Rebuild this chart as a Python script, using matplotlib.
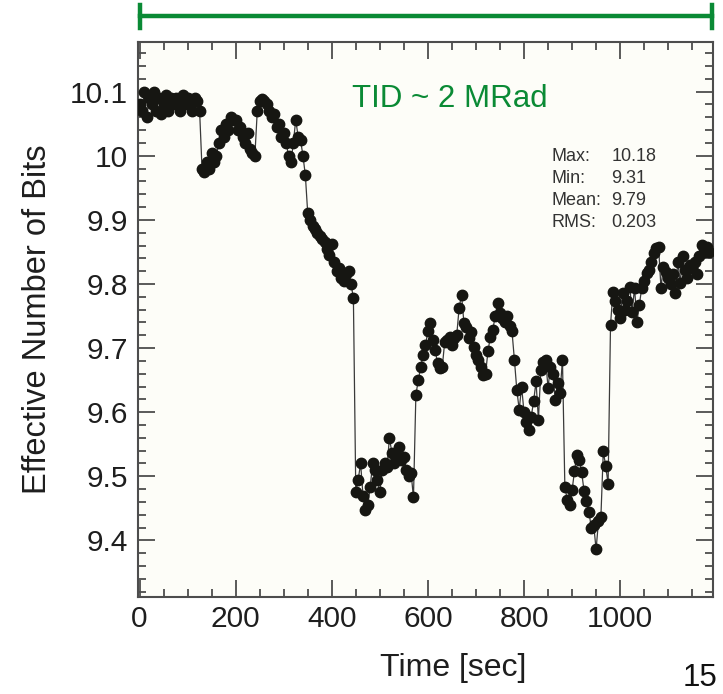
import numpy as np
import matplotlib.pyplot as plt
from matplotlib.lines import Line2D
from matplotlib.ticker import MultipleLocator

plt.rcParams["font.family"] = ["Liberation Sans", "DejaVu Sans"]

# sample times [sec], one reading every 5 s
t_start, t_step = 0, 5

# effective number of bits, 5 s apart
enob = [
    # 0 - 95
    10.08, 10.07, 10.10, 10.06, 10.09, 10.08, 10.10, 10.07, 10.09, 10.065,
    10.08, 10.095, 10.07, 10.09, 10.08, 10.09, 10.085, 10.07, 10.095, 10.08,
    # 100 - 195
    10.09, 10.08, 10.07, 10.09, 10.085, 10.07, 9.98, 9.975, 9.99, 9.98,
    10.005, 9.99, 10.0, 10.02, 10.04, 10.03, 10.05, 10.04, 10.06, 10.055,
    # 200 - 295
    10.055, 10.04, 10.045, 10.03, 10.02, 10.035, 10.01, 10.005, 10.0, 10.07,
    10.085, 10.088, 10.085, 10.08, 10.07, 10.06, 10.065, 10.045, 10.05, 10.03,
    # 300 - 395
    10.035, 10.02, 10.0, 9.99, 10.02, 10.056, 10.03, 10.025, 10.0, 9.97,
    9.91, 9.90, 9.89, 9.885, 9.88, 9.875, 9.87, 9.865, 9.855, 9.845,
    # 400 - 495
    9.862, 9.835, 9.82, 9.825, 9.81, 9.805, 9.815, 9.82, 9.80, 9.778,
    9.475, 9.495, 9.52, 9.47, 9.447, 9.455, 9.484, 9.52, 9.51, 9.495,
    # 500 - 595
    9.475, 9.51, 9.52, 9.515, 9.56, 9.537, 9.52, 9.53, 9.545, 9.525,
    9.53, 9.51, 9.50, 9.505, 9.467, 9.627, 9.65, 9.67, 9.69, 9.705,
    # 600 - 695
    9.726, 9.739, 9.713, 9.697, 9.677, 9.669, 9.671, 9.71, 9.713, 9.718,
    9.705, 9.715, 9.72, 9.763, 9.783, 9.739, 9.733, 9.716, 9.725, 9.702,
    # 700 - 795
    9.69, 9.682, 9.67, 9.658, 9.66, 9.695, 9.718, 9.728, 9.75, 9.77,
    9.755, 9.747, 9.74, 9.75, 9.735, 9.726, 9.682, 9.635, 9.604, 9.64,
    # 800 - 895
    9.60, 9.585, 9.573, 9.593, 9.617, 9.648, 9.588, 9.666, 9.679, 9.682,
    9.638, 9.671, 9.66, 9.619, 9.646, 9.63, 9.682, 9.484, 9.463, 9.455,
    # 900 - 995
    9.478, 9.508, 9.534, 9.526, 9.506, 9.477, 9.461, 9.445, 9.42, 9.424,
    9.386, 9.43, 9.437, 9.539, 9.516, 9.488, 9.736, 9.788, 9.773, 9.76,
    # 1000 - 1095
    9.747, 9.786, 9.76, 9.773, 9.796, 9.757, 9.794, 9.741, 9.767, 9.794,
    9.804, 9.817, 9.822, 9.835, 9.848, 9.856, 9.858, 9.794, 9.827, 9.819,
    # 1100 - 1185
    9.81, 9.80, 9.815, 9.786, 9.835, 9.802, 9.843, 9.822, 9.81, 9.83,
    9.825, 9.835, 9.815, 9.843, 9.861, 9.85, 9.858, 9.85,
]

y_ticks = [9.4, 9.5, 9.6, 9.7, 9.8, 9.9, 10.0, 10.1]
y_tick_labels = ["9.4", "9.5", "9.6", "9.7", "9.8", "9.9", "10", "10.1"]
x_ticks = [0, 200, 400, 600, 800, 1000]

stat_names = ["Max:", "Min:", "Mean:", "RMS:"]
stat_values = ["10.18", "9.31", "9.79", "0.203"]

green = "#0a8a35"
axis_grey = "#4d4d4d"


def main() -> None:
    times = t_start + t_step * np.arange(len(enob))

    fig = plt.figure(figsize=(7.23, 6.94), dpi=100)
    ax = fig.add_axes([0.191, 0.140, 0.795, 0.800])
    ax.set_facecolor("#fdfdf8")

    ax.plot(times, enob, color="#3a3a3a", linewidth=0.9, marker="o",
            markersize=7.5, markerfacecolor="#161612",
            markeredgecolor="#161612", zorder=3)

    ax.set_xlim(-3, 1193)
    ax.set_ylim(9.312, 10.178)
    ax.set_xticks(x_ticks)
    ax.set_yticks(y_ticks)
    ax.set_yticklabels(y_tick_labels)
    ax.xaxis.set_minor_locator(MultipleLocator(50))
    ax.yaxis.set_minor_locator(MultipleLocator(0.02))

    ax.tick_params(which="both", direction="in", top=True, right=True,
                   color=axis_grey, width=1.3, labelsize=21.5,
                   labelcolor="#1e1e1e")
    ax.tick_params(which="major", length=12)
    ax.tick_params(which="minor", length=6)
    ax.tick_params(axis="x", pad=6)
    ax.tick_params(axis="y", pad=7)
    for sp in ax.spines.values():
        sp.set_color(axis_grey)
        sp.set_linewidth(1.5)

    ax.set_ylabel("Effective Number of Bits", fontsize=23.5, color="#1e1e1e")
    ax.yaxis.set_label_coords(-0.148, 0.5)
    ax.set_xlabel("Time [sec]", fontsize=23, color="#1e1e1e")
    ax.xaxis.set_label_coords(0.548, -0.102)

    # dose bar above the plot
    y_bar = 1 - 16 / 694
    x0, x1 = 140 / 723, 712 / 723
    fig.add_artist(Line2D([x0, x1], [y_bar, y_bar], color=green,
                          linewidth=3.2, transform=fig.transFigure))
    for xc in (x0, x1):
        fig.add_artist(Line2D([xc, xc], [1 - 5 / 694, 1 - 28 / 694],
                              color=green, linewidth=3.2,
                              transform=fig.transFigure))

    ax.text(0.373, 0.897, "TID ~ 2 MRad", transform=ax.transAxes,
            color=green, fontsize=22.5, ha="left", va="center")

    for i, (name, val) in enumerate(zip(stat_names, stat_values)):
        yy = 1 - (157 + 21.7 * i - 41.7) / 555
        ax.text((551 - 138) / 574.7, yy, name, transform=ax.transAxes,
                fontsize=13, color="#333333", ha="left", va="center")
        ax.text((611 - 138) / 574.7, yy, val, transform=ax.transAxes,
                fontsize=13, color="#333333", ha="left", va="center")

    fig.text(683 / 723, 1 / 694, "15", fontsize=22.5, color="#111111",
             ha="left", va="bottom")

    fig.savefig("out.png", dpi=100)


if __name__ == "__main__":
    main()
